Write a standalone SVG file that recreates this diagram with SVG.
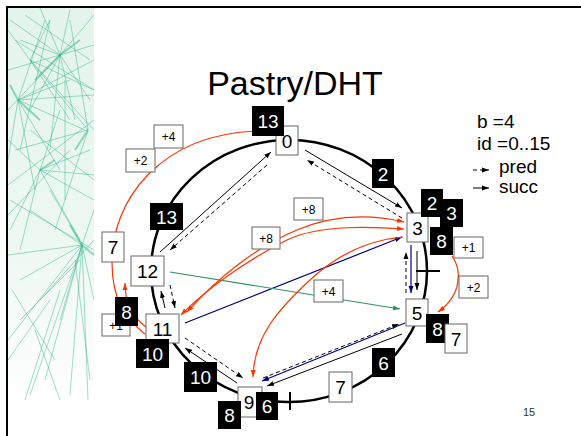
<svg xmlns="http://www.w3.org/2000/svg" width="581" height="436" viewBox="0 0 581 436">
<style>
.wb{fill:#fff;stroke:#666;stroke-width:1}
.bb{fill:#000}
.nt{font-family:"Liberation Sans",Arial,sans-serif;font-size:19px;text-anchor:middle;fill:#000}
.bt{font-family:"Liberation Sans",Arial,sans-serif;font-size:19px;text-anchor:middle;fill:#fff}
.st{font-family:"Liberation Sans",Arial,sans-serif;font-size:12px;text-anchor:middle;fill:#000}
.lg{font-family:"Liberation Sans",Arial,sans-serif;font-size:19px;fill:#000}
.k{stroke:#000;stroke-width:1;fill:none}
.kd{stroke:#000;stroke-width:1;fill:none;stroke-dasharray:4,3}
.r{stroke:#ff3300;stroke-width:1.2;fill:none}
.b{stroke:#000080;stroke-width:1.2;fill:none}
.g{stroke:#2e9460;stroke-width:1.2;fill:none}
.img line{stroke:#2fb489;stroke-width:1;opacity:0.45}
.img .h{stroke-width:2;opacity:0.5}
</style>
<defs>
<marker id="ak" markerUnits="userSpaceOnUse" markerWidth="8" markerHeight="6" refX="7" refY="3" orient="auto"><path d="M0,0.5 L7,3 L0,5.5 z" fill="#000"/></marker>
<marker id="ar" markerUnits="userSpaceOnUse" markerWidth="8" markerHeight="6" refX="7" refY="3" orient="auto-start-reverse"><path d="M0,0.5 L7,3 L0,5.5 z" fill="#ff3300"/></marker>
<marker id="ab" markerUnits="userSpaceOnUse" markerWidth="8" markerHeight="6" refX="7" refY="3" orient="auto"><path d="M0,0.5 L7,3 L0,5.5 z" fill="#000080"/></marker>
<marker id="ag" markerUnits="userSpaceOnUse" markerWidth="8" markerHeight="6" refX="7" refY="3" orient="auto"><path d="M0,0.5 L7,3 L0,5.5 z" fill="#2e9460"/></marker>
<clipPath id="imgclip"><rect x="8" y="8" width="86" height="400"/></clipPath>
<linearGradient id="imgbg" x1="0" y1="0" x2="0" y2="1">
<stop offset="0" stop-color="#e3f4ec"/><stop offset="0.6" stop-color="#eef8f3"/><stop offset="1" stop-color="#ffffff"/>
</linearGradient>
</defs>
<rect width="581" height="436" fill="#fff"/>
<g id="background-image" class="img" clip-path="url(#imgclip)">
<rect x="8" y="8" width="86" height="400" fill="url(#imgbg)"/>
<line x1="60" y1="55" x2="10" y2="20"/><line x1="60" y1="55" x2="94" y2="15"/><line x1="60" y1="55" x2="30" y2="110"/><line x1="60" y1="55" x2="90" y2="100"/>
<line x1="60" y1="55" x2="8" y2="70"/><line x1="60" y1="55" x2="70" y2="10"/><line x1="60" y1="55" x2="94" y2="45"/><line x1="60" y1="55" x2="40" y2="8"/>
<line x1="60" y1="55" x2="20" y2="40"/><line x1="60" y1="55" x2="75" y2="120"/><line x1="60" y1="55" x2="50" y2="150"/><line x1="60" y1="55" x2="8" y2="110"/>
<line x1="18" y1="100" x2="94" y2="60"/><line x1="18" y1="100" x2="60" y2="170"/><line x1="18" y1="100" x2="8" y2="160"/><line x1="18" y1="100" x2="85" y2="130"/>
<line x1="18" y1="100" x2="45" y2="20"/><line x1="18" y1="100" x2="94" y2="95"/><line x1="18" y1="100" x2="35" y2="190"/><line x1="18" y1="100" x2="70" y2="80"/>
<line x1="40" y1="170" x2="94" y2="200"/><line x1="40" y1="170" x2="10" y2="230"/><line x1="40" y1="170" x2="80" y2="240"/><line x1="40" y1="170" x2="90" y2="150"/>
<line x1="40" y1="170" x2="8" y2="140"/><line x1="40" y1="170" x2="60" y2="110"/><line x1="40" y1="170" x2="20" y2="250"/><line x1="40" y1="170" x2="94" y2="175"/>
<line x1="82" y1="245" x2="30" y2="210"/><line x1="82" y1="245" x2="94" y2="300"/><line x1="82" y1="245" x2="60" y2="320"/><line x1="82" y1="245" x2="20" y2="280"/>
<line x1="82" y1="245" x2="70" y2="395"/><line x1="82" y1="245" x2="45" y2="380"/><line x1="82" y1="245" x2="8" y2="340"/><line x1="82" y1="245" x2="50" y2="190"/>
<line x1="82" y1="245" x2="94" y2="210"/><line x1="82" y1="245" x2="8" y2="255"/><line x1="82" y1="245" x2="88" y2="400"/><line x1="82" y1="245" x2="30" y2="395"/>
<line x1="88" y1="130" x2="55" y2="230"/><line x1="88" y1="130" x2="30" y2="60"/><line x1="88" y1="130" x2="15" y2="150"/><line x1="88" y1="130" x2="70" y2="20"/>
<line x1="30" y1="60" x2="94" y2="90"/><line x1="30" y1="60" x2="8" y2="30"/><line x1="30" y1="60" x2="50" y2="20"/><line x1="30" y1="60" x2="94" y2="130"/>
<line x1="60" y1="290" x2="25" y2="400"/><line x1="75" y1="260" x2="90" y2="380"/><line x1="30" y1="130" x2="94" y2="180"/><line x1="15" y1="40" x2="94" y2="90"/>
<line x1="50" y1="20" x2="20" y2="150"/><line x1="70" y1="120" x2="30" y2="60"/><line x1="10" y1="200" x2="94" y2="250"/><line x1="40" y1="300" x2="94" y2="240"/>
<line x1="20" y1="320" x2="80" y2="260"/><line x1="65" y1="80" x2="65" y2="200"/><line x1="8" y1="215" x2="70" y2="150"/><line x1="12" y1="290" x2="55" y2="360"/>
<line x1="35" y1="330" x2="60" y2="400"/><line x1="8" y1="360" x2="50" y2="300"/><line x1="25" y1="15" x2="90" y2="60"/><line x1="8" y1="185" x2="94" y2="120"/>
<line class="h" x1="60" y1="55" x2="35" y2="80"/><line class="h" x1="60" y1="55" x2="80" y2="40"/><line class="h" x1="18" y1="100" x2="40" y2="120"/><line class="h" x1="82" y1="245" x2="70" y2="225"/>
<line class="h" x1="82" y1="245" x2="94" y2="255"/><line class="h" x1="40" y1="170" x2="55" y2="160"/><line class="h" x1="18" y1="100" x2="10" y2="85"/><line class="h" x1="88" y1="130" x2="75" y2="150"/>
</g>
<path d="M7,436 V7 H581" fill="none" stroke="#000" stroke-width="2"/>
<text x="295" y="95" font-family="Liberation Sans,Arial,sans-serif" font-size="34" text-anchor="middle">Pastry/DHT</text>
<g id="legend">
<text class="lg" x="477" y="128">b =4</text>
<text class="lg" x="477" y="150">id =0..15</text>
<path class="kd" d="M473,170 L489,170" stroke-dasharray="3,2" marker-end="url(#ak)"/>
<text class="lg" x="499" y="173">pred</text>
<path class="k" d="M473,188 L489,188" marker-end="url(#ak)"/>
<text class="lg" x="499" y="193">succ</text>
</g>
<g id="ring">
<ellipse cx="289" cy="271" rx="138" ry="131" fill="none" stroke="#000" stroke-width="2.5"/>
<path d="M416,271 H440 M290,392 V410" stroke="#000" stroke-width="2"/>
</g>
<g id="connectors">
<path class="k" d="M305,150 L402,208" marker-end="url(#ak)"/>
<path class="kd" d="M402,218 L307,160" marker-end="url(#ak)"/>
<path class="k" d="M160,252 L271,152" marker-end="url(#ak)"/>
<path class="kd" d="M267,165 L170,250" marker-end="url(#ak)"/>
<path class="k" d="M417,251 L417,290" marker-end="url(#ak)"/>
<path class="kd" d="M406,293 L406,252" marker-end="url(#ak)"/>
<path class="b" d="M411,245 L411,293" marker-end="url(#ab)"/>
<path class="k" d="M402,334 L267,386" marker-end="url(#ak)"/>
<path class="kd" d="M263,378 L399,324" marker-end="url(#ak)"/>
<path class="b" d="M405,323 L262,381" marker-end="url(#ab)"/>
<path class="k" d="M237,383 L185,348" marker-end="url(#ak)"/>
<path class="kd" d="M185,338 L243,378" marker-end="url(#ak)"/>
<path class="k" d="M165,308 L161,291" marker-end="url(#ak)"/>
<path class="kd" d="M170,285 L175,308" marker-end="url(#ak)"/>
<path class="b" d="M185,323 L402,237" marker-end="url(#ab)"/>
<path class="g" d="M170,272 L400,309" marker-end="url(#ag)"/>
<path class="r" d="M452,256 C462,270 462,295 438,312" marker-end="url(#ar)"/>
<path class="r" d="M145,334 C125,318 112,300 112,262 C112,200 160,135 256,131"/>
<path class="r" d="M146,327 C134,318 125,305 125,283" marker-end="url(#ar)"/>
<path class="r" d="M404,222 C370,214 335,214 297,230 C260,245 220,275 187,312" marker-start="url(#ar)" marker-end="url(#ar)"/>
<path class="r" d="M404,229 C375,227 320,224 287,240 C255,256 210,285 181,315" marker-start="url(#ar)" marker-end="url(#ar)"/>
<path class="r" d="M403,237 C370,240 340,252 310,280 C280,308 254,335 253,377" marker-end="url(#ar)"/>
</g>
<g id="node-0"><rect class="wb" x="276" y="126" width="22" height="29"/><text class="nt" x="287" y="148">0</text></g>
<g id="node-3"><rect class="wb" x="407" y="213" width="21" height="29"/><text class="nt" x="417.5" y="235">3</text></g>
<g id="node-5"><rect class="wb" x="406" y="299" width="22" height="27"/><text class="nt" x="417" y="320">5</text></g>
<g id="node-9"><rect class="wb" x="238" y="387" width="24" height="30"/><text class="nt" x="249" y="409">9</text></g>
<g id="node-11"><rect class="wb" x="146" y="314" width="33" height="29"/><text class="nt" x="162.5" y="336">11</text></g>
<g id="node-12"><rect class="wb" x="131" y="256" width="33" height="30"/><text class="nt" x="147.5" y="278">12</text></g>
<g id="lbl-7a"><rect class="wb" x="102" y="232" width="22" height="30"/><text class="nt" x="113" y="254">7</text></g>
<g id="lbl-7c"><rect class="wb" x="329" y="372" width="23" height="30"/><text class="nt" x="340.5" y="394">7</text></g>
<g id="lbl-p4a"><rect class="wb" x="154" y="125" width="29" height="23"/><text class="st" x="168.5" y="141">+4</text></g>
<g id="lbl-p2a"><rect class="wb" x="126" y="149" width="29" height="23"/><text class="st" x="140.5" y="165">+2</text></g>
<g id="lbl-p8a"><rect class="wb" x="294" y="198" width="29" height="22"/><text class="st" x="308.5" y="214">+8</text></g>
<g id="lbl-p8b"><rect class="wb" x="252" y="227" width="28" height="22"/><text class="st" x="266" y="243">+8</text></g>
<g id="lbl-p4b"><rect class="wb" x="314" y="280" width="29" height="22"/><text class="st" x="328.5" y="296">+4</text></g>
<g id="lbl-p1a"><rect class="wb" x="454" y="237" width="29" height="21"/><text class="st" x="468.5" y="252">+1</text></g>
<g id="lbl-p2b"><rect class="wb" x="459" y="276" width="29" height="22"/><text class="st" x="473.5" y="292">+2</text></g>
<g id="lbl-p1b"><rect class="wb" x="102" y="314" width="28" height="22"/><text class="st" x="116" y="330">+1</text></g>
<g id="blk-13a"><rect class="bb" x="252" y="106" width="32" height="30"/><text class="bt" x="268" y="128">13</text></g>
<g id="blk-13b"><rect class="bb" x="150" y="203" width="33" height="27"/><text class="bt" x="166.5" y="224">13</text></g>
<g id="blk-2a"><rect class="bb" x="372" y="159" width="22" height="29"/><text class="bt" x="383" y="181">2</text></g>
<g id="blk-2b"><rect class="bb" x="421" y="189" width="22" height="28"/><text class="bt" x="432" y="210">2</text></g>
<g id="blk-3"><rect class="bb" x="440" y="199" width="23" height="28"/><text class="bt" x="451.5" y="220">3</text></g>
<g id="blk-8a"><rect class="bb" x="430" y="227" width="23" height="28"/><text class="bt" x="441.5" y="248">8</text></g>
<g id="blk-8b"><rect class="bb" x="426" y="314" width="23" height="29"/><text class="bt" x="437.5" y="336">8</text></g>
<g id="blk-6a"><rect class="bb" x="372" y="348" width="23" height="29"/><text class="bt" x="383.5" y="370">6</text></g>
<g id="blk-10a"><rect class="bb" x="136" y="339" width="33" height="29"/><text class="bt" x="152.5" y="361">10</text></g>
<g id="blk-10b"><rect class="bb" x="184" y="362" width="33" height="30"/><text class="bt" x="200.5" y="384">10</text></g>
<g id="blk-8c"><rect class="bb" x="115" y="297" width="23" height="29"/><text class="bt" x="126.5" y="319">8</text></g>
<g id="blk-8d"><rect class="bb" x="218" y="401" width="23" height="28"/><text class="bt" x="229.5" y="422">8</text></g>
<g id="blk-6b"><rect class="bb" x="256" y="392" width="22" height="28"/><text class="bt" x="267" y="413">6</text></g>
<g id="lbl-7b"><rect class="wb" x="445" y="324" width="22" height="29"/><text class="nt" x="456" y="346">7</text></g>
<text x="529" y="416" font-family="Liberation Sans,Arial,sans-serif" font-size="11" text-anchor="middle" fill="#333">15</text>
</svg>
